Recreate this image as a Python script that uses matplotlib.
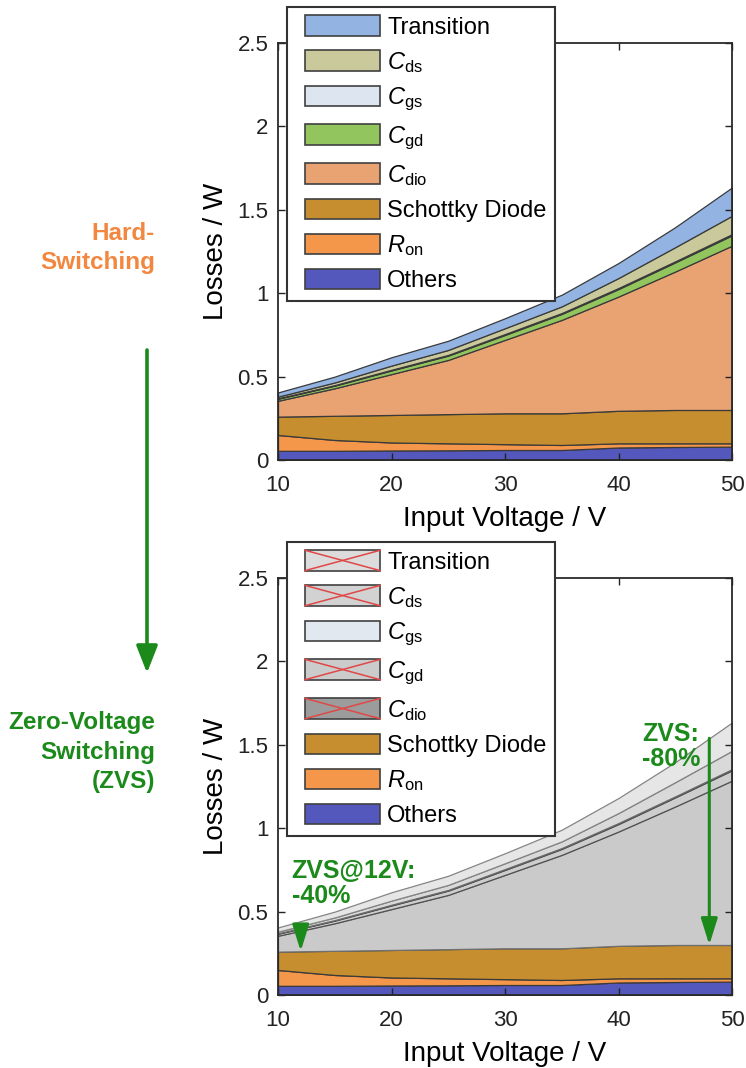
import matplotlib
matplotlib.use("Agg")
import matplotlib.pyplot as plt
import numpy as np
from matplotlib.patches import Rectangle, FancyArrowPatch
from matplotlib.lines import Line2D
from matplotlib.legend_handler import HandlerBase

plt.rcParams['font.family'] = ['Liberation Sans', 'DejaVu Sans']
plt.rcParams['mathtext.fontset'] = 'custom'
plt.rcParams['mathtext.rm'] = 'Liberation Sans'
plt.rcParams['mathtext.it'] = 'Liberation Sans:italic'
plt.rcParams['mathtext.bf'] = 'Liberation Sans:bold'

# ---- loss breakdown (W) versus input voltage (V) ----
voltage = [10, 15, 20, 25, 30, 35, 40, 45, 50]
others = [0.055, 0.055, 0.057, 0.058, 0.060, 0.060, 0.075, 0.078, 0.080]
r_on = [0.095, 0.065, 0.048, 0.042, 0.035, 0.030, 0.025, 0.022, 0.020]
schottky = [0.110, 0.145, 0.165, 0.175, 0.185, 0.190, 0.195, 0.200, 0.200]
c_dio = [0.095, 0.165, 0.245, 0.325, 0.440, 0.560, 0.685, 0.830, 0.985]
c_gd = [0.012, 0.016, 0.022, 0.026, 0.030, 0.036, 0.045, 0.055, 0.062]
c_gs = [0.003, 0.003, 0.004, 0.004, 0.005, 0.005, 0.006, 0.006, 0.007]
c_ds = [0.010, 0.016, 0.025, 0.030, 0.035, 0.040, 0.060, 0.085, 0.110]
transition = [0.025, 0.035, 0.050, 0.055, 0.060, 0.070, 0.090, 0.120, 0.170]

layer_labels = ['Others', r'$R_{\mathrm{on}}$', 'Schottky Diode', r'$C_{\mathrm{dio}}$',
                r'$C_{\mathrm{gd}}$', r'$C_{\mathrm{gs}}$', r'$C_{\mathrm{ds}}$', 'Transition']

x_ticks = [10, 20, 30, 40, 50]
y_ticks = [0, 0.5, 1, 1.5, 2, 2.5]
y_tick_labels = ['0', '0.5', '1', '1.5', '2', '2.5']

# ZVS annotation voltages
zvs_low_v = 12
zvs_high_v = 48

colors_hard = ['#5458bd', '#f4974a', '#c68e2e', '#e9a373',
               '#92c55d', '#dde6f0', '#c9c99b', '#93b4e3']
colors_zvs_fill = ['#5458bd', '#f4974a', '#c68e2e', '#cacaca',
                   '#cdcdcd', '#dfe5ec', '#d9d9d9', '#e6e6e6']
colors_zvs_legend = ['#5458bd', '#f4974a', '#c68e2e', '#9c9c9c',
                     '#cbcbcb', '#e1e8f0', '#d2d2d2', '#dcdcdc']
crossed = [False, False, False, True, True, False, True, True]

GREEN = '#1b8a1b'
ORANGE = '#f2873f'
W, H = 746, 1068

layers = [others, r_on, schottky, c_dio, c_gd, c_gs, c_ds, transition]


class LegendBox(HandlerBase):
    """Filled box (optionally struck through with a red cross), inset from the left."""

    def __init__(self, cross, inset_px=7):
        super().__init__()
        self.cross = cross
        self.inset_px = inset_px

    def create_artists(self, legend, orig_handle, xdescent, ydescent,
                       width, height, fontsize, trans):
        x0, y0 = -xdescent + self.inset_px, -ydescent
        w = width - self.inset_px
        arts = [Rectangle((x0, y0), w, height,
                          facecolor=orig_handle.get_facecolor(),
                          edgecolor='#404040', linewidth=1.2, transform=trans)]
        if self.cross:
            arts.append(Line2D([x0, x0 + w], [y0, y0 + height],
                               color='#e04848', lw=1.1, transform=trans))
            arts.append(Line2D([x0, x0 + w], [y0 + height, y0],
                               color='#e04848', lw=1.1, transform=trans))
        return arts


fig = plt.figure(figsize=(W / 100, H / 100), dpi=100)
ax_top = fig.add_axes([278 / W, 1 - 460 / H, 454 / W, 417 / H])
ax_bot = fig.add_axes([278 / W, 1 - 995 / H, 454 / W, 417 / H])


def draw_panel(ax, fill_colors, legend_colors, cross_flags, edge_colors):
    polys = ax.stackplot(voltage, *layers, colors=fill_colors, linewidth=0.9)
    for p, ec in zip(polys, edge_colors):
        p.set_edgecolor(ec)
    ax.set_xlim(10, 50)
    ax.set_ylim(0, 2.5)
    ax.set_xticks(x_ticks)
    ax.set_yticks(y_ticks)
    ax.set_yticklabels(y_tick_labels)
    ax.tick_params(direction='in', top=True, right=True, length=5, width=1,
                   labelsize=16, pad=7, colors='#222222')
    ax.tick_params(axis='x', pad=11)
    for s in ax.spines.values():
        s.set_linewidth(1.3)
        s.set_color('#2a2a2a')
    ax.set_xlabel('Input Voltage / V', fontsize=20, labelpad=7)
    ax.set_ylabel('Losses / W', fontsize=20, labelpad=6)

    handles, hmap = [], {}
    for c, fl in zip(legend_colors, cross_flags):
        h = Rectangle((0, 0), 1, 1, facecolor=c)
        handles.append(h)
        hmap[h] = LegendBox(fl)
    leg = ax.legend(handles[::-1], layer_labels[::-1], handler_map=hmap,
                    loc='upper left', bbox_to_anchor=(9 / 454, 453 / 417),
                    borderaxespad=0, fontsize=17, frameon=True, fancybox=False,
                    framealpha=1, edgecolor='#333333', handlelength=3.6,
                    handleheight=0.95, handletextpad=0.3, labelspacing=0.47,
                    borderpad=0.35)
    leg.get_frame().set_linewidth(1.5)
    return leg


draw_panel(ax_top, colors_hard, colors_hard, [False] * 8, ['#3a3a3a'] * 8)
draw_panel(ax_bot, colors_zvs_fill, colors_zvs_legend, crossed,
           ['#3a3a3a'] * 3 + ['#707070', '#505050', '#505050', '#6a6a6a', '#858585'])

# ZVS savings arrows drawn from the stacked totals
cum = np.cumsum(np.array(layers), axis=0)
schottky_top = cum[2]
total = cum[-1]
arrow_kw = dict(arrowstyle='-|>,head_length=1.6,head_width=0.5', mutation_scale=10,
                color=GREEN, lw=2.2, shrinkA=0, shrinkB=0)
ax_bot.annotate('', xy=(zvs_high_v, np.interp(zvs_high_v, voltage, schottky_top)),
                xytext=(zvs_high_v, np.interp(zvs_high_v, voltage, total)),
                arrowprops=arrow_kw)
ax_bot.annotate('', xy=(zvs_low_v, np.interp(zvs_low_v, voltage, schottky_top)),
                xytext=(zvs_low_v, 0.38), arrowprops=arrow_kw)
ax_bot.text(42.1, 1.49, 'ZVS:\n-80%', color=GREEN, fontsize=18, fontweight='bold',
            ha='left', va='center', linespacing=1.05)
ax_bot.text(11.2, 0.67, 'ZVS@12V:\n-40%', color=GREEN, fontsize=18, fontweight='bold',
            ha='left', va='center', linespacing=1.05)

# side captions and transition arrow
fig.text(155 / W, 1 - 248 / H, 'Hard-\nSwitching', color=ORANGE, fontsize=17.5,
         fontweight='bold', ha='right', va='center', linespacing=1.35)
fig.text(155 / W, 1 - 752 / H, 'Zero-Voltage\nSwitching\n(ZVS)', color=GREEN,
         fontsize=17.5, fontweight='bold', ha='right', va='center', linespacing=1.35)
fig.add_artist(FancyArrowPatch((147 / W, 1 - 350 / H), (147 / W, 1 - 673 / H),
                               transform=fig.transFigure,
                               arrowstyle='-|>,head_length=1.66,head_width=0.65',
                               mutation_scale=10, color=GREEN, lw=2.6,
                               shrinkA=0, shrinkB=0))

fig.savefig('out.png', dpi=100)
